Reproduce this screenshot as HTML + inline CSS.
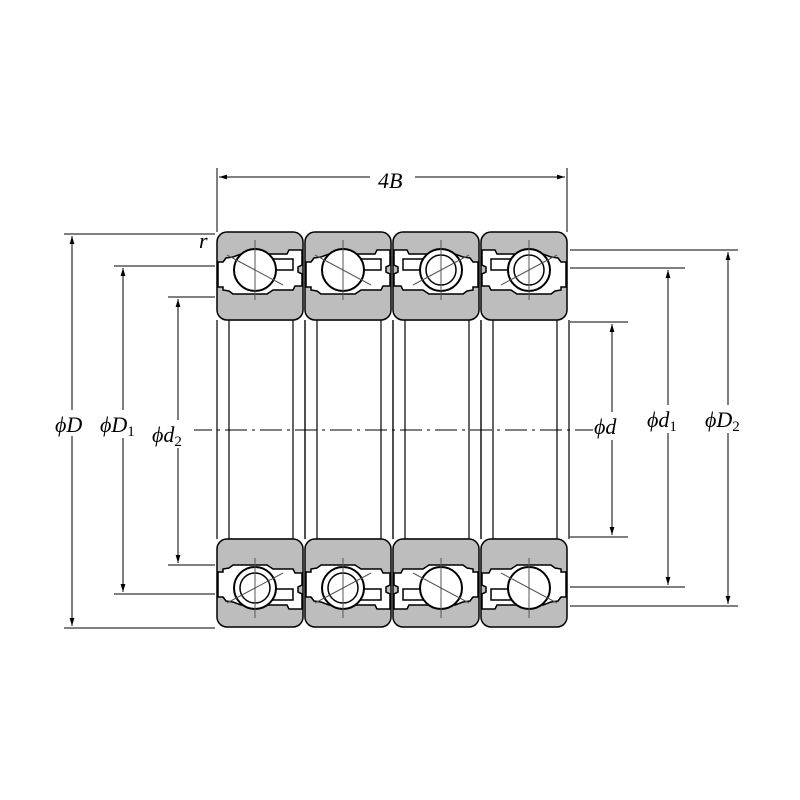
<!DOCTYPE html>
<html><head><style>body{margin:0;background:#fff}svg{display:block}
text{font-family:"Liberation Serif",serif;font-style:italic;font-size:22px;fill:#000}</style></head>
<body>
<svg width="800" height="800" viewBox="0 0 800 800" xmlns="http://www.w3.org/2000/svg">
<defs>
<marker id="a" viewBox="0 0 10 10" refX="10" refY="5" markerWidth="8" markerHeight="8" orient="auto-start-reverse"><path d="M0,2 L10,5 L0,8 z" fill="#000"/></marker>
<g id="top">
 <rect x="0" y="0" width="86" height="88" rx="10" fill="#bdbdbd" stroke="#000" stroke-width="1.5"/>
 <path d="M1,30 L6,30 L9,26 L16,25 L24,22 L70,22 L72,18 L85,18 L85,33 L81,35 L81,40 L85,42 L85,54 L78,54 L76,58 L56,58 L50,62 L16,62 L12,59 L6,58 L6,55 L1,55 Z" fill="#fff" stroke="#000" stroke-width="1.5"/>
 <path d="M50,27 L76,27 L76,38 L50,38" fill="#fff" stroke="#000" stroke-width="1.5"/>
</g>
<g id="cageball">
 <circle cx="0" cy="0" r="21" fill="#fff" stroke="#000" stroke-width="2"/>
 <circle cx="0" cy="0" r="15" fill="#fff" stroke="#000" stroke-width="1.5"/>
</g>
</defs>
<g stroke="#000" stroke-width="1.2" fill="none">
 <g id="mid">
  <line x1="217" y1="320" x2="217" y2="539"/><line x1="305" y1="320" x2="305" y2="539"/>
  <rect x="229" y="320" width="64" height="219"/>
 </g>
 <use href="#mid" x="88"/><use href="#mid" x="176"/><use href="#mid" x="264"/>
</g>
<use href="#top" x="217" y="232"/><use href="#top" x="305" y="232"/>
<g transform="translate(479,232) scale(-1,1)"><use href="#top"/></g>
<g transform="translate(567,232) scale(-1,1)"><use href="#top"/></g>
<g transform="translate(217,627) scale(1,-1)"><use href="#top"/></g>
<g transform="translate(305,627) scale(1,-1)"><use href="#top"/></g>
<g transform="translate(479,627) scale(-1,-1)"><use href="#top"/></g>
<g transform="translate(567,627) scale(-1,-1)"><use href="#top"/></g>
<g fill="#fff" stroke="#000" stroke-width="2">
 <circle cx="255" cy="270" r="21"/><circle cx="343" cy="270" r="21"/>
 <circle cx="441" cy="588" r="21"/><circle cx="529" cy="588" r="21"/>
</g>
<use href="#cageball" x="441" y="270"/><use href="#cageball" x="529" y="270"/>
<use href="#cageball" x="255" y="588"/><use href="#cageball" x="343" y="588"/>
<g stroke="#555" stroke-width="1">
 <line x1="255" y1="240" x2="255" y2="300"/><line x1="343" y1="240" x2="343" y2="300"/>
 <line x1="441" y1="240" x2="441" y2="300"/><line x1="529" y1="240" x2="529" y2="300"/>
 <line x1="255" y1="558" x2="255" y2="618"/><line x1="343" y1="558" x2="343" y2="618"/>
 <line x1="441" y1="558" x2="441" y2="618"/><line x1="529" y1="558" x2="529" y2="618"/>
 <line x1="227" y1="255" x2="283" y2="285"/><line x1="315" y1="255" x2="371" y2="285"/>
 <line x1="413" y1="285" x2="469" y2="255"/><line x1="501" y1="285" x2="557" y2="255"/>
 <line x1="227" y1="603" x2="283" y2="573"/><line x1="315" y1="603" x2="371" y2="573"/>
 <line x1="413" y1="573" x2="469" y2="603"/><line x1="501" y1="573" x2="557" y2="603"/>
</g>
<line x1="190" y1="430" x2="595" y2="430" stroke="#000" stroke-width="1" stroke-dasharray="22,5,3,5"/>
<g stroke="#000" stroke-width="1">
 <line x1="217" y1="168" x2="217" y2="232"/><line x1="567" y1="168" x2="567" y2="232"/>
 <line x1="219" y1="177" x2="565" y2="177" marker-start="url(#a)" marker-end="url(#a)"/>
 <line x1="64" y1="234" x2="215" y2="234"/><line x1="64" y1="628" x2="215" y2="628"/>
 <line x1="72" y1="236" x2="72" y2="626" marker-start="url(#a)" marker-end="url(#a)"/>
 <line x1="114" y1="266" x2="215" y2="266"/><line x1="114" y1="594" x2="215" y2="594"/>
 <line x1="123" y1="268" x2="123" y2="592" marker-start="url(#a)" marker-end="url(#a)"/>
 <line x1="168" y1="297" x2="215" y2="297"/><line x1="168" y1="565" x2="215" y2="565"/>
 <line x1="178" y1="299" x2="178" y2="563" marker-start="url(#a)" marker-end="url(#a)"/>
 <line x1="570" y1="322" x2="628" y2="322"/><line x1="570" y1="537" x2="628" y2="537"/>
 <line x1="612" y1="324" x2="612" y2="535" marker-start="url(#a)" marker-end="url(#a)"/>
 <line x1="570" y1="268" x2="685" y2="268"/><line x1="570" y1="587" x2="685" y2="587"/>
 <line x1="668" y1="270" x2="668" y2="585" marker-start="url(#a)" marker-end="url(#a)"/>
 <line x1="570" y1="250" x2="738" y2="250"/><line x1="570" y1="606" x2="738" y2="606"/>
 <line x1="728" y1="252" x2="728" y2="604" marker-start="url(#a)" marker-end="url(#a)"/>
</g>
<g>
 <rect x="370" y="165" width="45" height="24" fill="#fff"/>
 <text x="378" y="188">4B</text>
 <text x="199" y="248">r</text>
 <rect x="55" y="410" width="40" height="26" fill="#fff"/>
 <text x="55" y="432">ϕD</text>
 <rect x="100" y="410" width="45" height="28" fill="#fff"/>
 <text x="100" y="432">ϕD<tspan font-size="15" font-style="normal" dy="4">1</tspan></text>
 <rect x="152" y="420" width="42" height="28" fill="#fff"/>
 <text x="152" y="442">ϕd<tspan font-size="15" font-style="normal" dy="4">2</tspan></text>
 <rect x="593" y="412" width="32" height="28" fill="#fff"/>
 <text x="594" y="434">ϕd</text>
 <rect x="646" y="405" width="42" height="28" fill="#fff"/>
 <text x="647" y="427">ϕd<tspan font-size="15" font-style="normal" dy="4">1</tspan></text>
 <rect x="705" y="405" width="46" height="28" fill="#fff"/>
 <text x="705" y="427">ϕD<tspan font-size="15" font-style="normal" dy="4">2</tspan></text>
</g>
</svg>
</body></html>
